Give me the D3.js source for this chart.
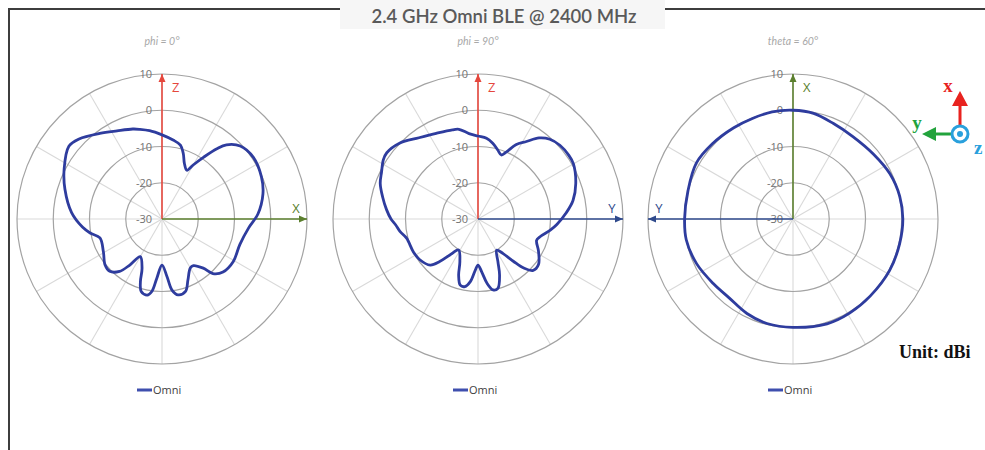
<!DOCTYPE html>
<html><head><meta charset="utf-8">
<script src="https://cdn.jsdelivr.net/npm/d3@7"></script>
<style>body{margin:0;background:#fff} svg{display:block}</style>
</head><body>
<svg id="c" width="985" height="450"></svg>
<script>
// ---------- data ----------
const chartTitle = "2.4 GHz Omni BLE @ 2400 MHz";
const subTitles = ["phi = 0°", "phi = 90°", "theta = 60°"];
const ringTicks = [10, 0, -10, -20, -30];
const seriesName = "Omni";
const unitLabel = "Unit: dBi";
const upAxisLabels = ["Z", "Z", "X"];
const sideAxisLabels = ["X", "Y", "Y"];

// angle in degrees, clockwise from top; gain in dBi
const phi0Angles = [0, 8, 14, 18, 22, 27, 30, 34, 38, 41, 47, 56, 67, 76, 87, 96, 108, 121, 131, 137, 140, 146, 150, 157, 162, 168, 172, 175, 180, 185, 188, 191, 196, 199, 202, 210, 215, 219, 225, 231, 241, 253, 259, 264, 274, 287, 297, 308, 314, 324, 333, 342, 346, 352];
const phi0Gain = [-6.8, -8, -9, -11, -13.5, -14.9, -12.8, -9.4, -5.4, -2.9, -0.5, 0.4, -0.2, -1.3, -3.5, -6, -7.4, -7.1, -7.7, -9.4, -12.3, -14.5, -14.4, -11.7, -9, -8.6, -10.2, -14, -17.3, -13.6, -9.8, -8.6, -9.2, -11.7, -15.3, -18, -14.5, -11.4, -9.6, -9.8, -11.5, -12.1, -9.8, -8, -5, -2, 0.3, 2.6, 1.8, -0.8, -2.7, -3.9, -4.5, -5.4];

const phi90Angles = [0, 6, 11, 16, 20, 23, 27, 32, 37, 42, 48, 55, 60, 70, 79, 86, 94, 99, 106, 110, 118, 127, 133, 137, 140, 144, 149, 155, 159, 164, 168, 172, 176, 180, 183, 187, 191, 195, 199, 203, 212, 218, 222, 226, 235, 243, 255, 261, 266, 270, 276, 283, 290, 296, 302, 306, 314, 324, 334, 344, 348, 354];
const phi90Gain = [-7.1, -7.6, -8.7, -10.2, -11.2, -9.9, -7, -4.8, -2, -0.4, 0.4, 0.6, 0.4, -1.3, -3.3, -5.6, -8.2, -9.9, -12.2, -12.8, -11.1, -9.1, -9.2, -11.5, -14.7, -18.2, -20, -17, -13.4, -10.1, -10, -12.1, -15.4, -17.3, -15.9, -12.6, -11, -11.1, -13.6, -17.2, -19.9, -17.4, -14.2, -11.7, -10.4, -10, -9.6, -8.2, -7.2, -6, -4.6, -3, -1.3, -0.4, 0.8, 1.1, 0.1, -2.3, -3.7, -4.4, -4.7, -6.3];

const theta60Angles = [0, 11, 23, 36, 51, 65, 78, 90, 103, 118, 135, 149, 162, 180, 194, 206, 219, 231, 245, 259, 270, 285, 300, 313, 327, 338, 349];
const theta60Gain = [0, -0.3, -1.4, -1.9, -1.5, -0.5, 0.1, 0.3, 0.2, 0.2, 0.1, 0.3, 0.4, -0.1, -0.3, -1, -2, -1.7, -0.7, 0, -0.1, 0, 0.8, 0.4, 0, -0.1, 0.1];

// ---------- layout ----------
const svg = d3.select("#c");
const centersX = [162, 478, 793];
const cy = 219, R = 145;
const RED = "#e5473d", OLIVE = "#5b7f2e", NAVY = "#2f4a8c", CURVE = "#2e3c9e";

const rScale = d3.scaleLinear().domain([-30, 10]).range([0, R]);
const aScale = d3.scaleLinear().domain([0, 360]).range([0, 2 * Math.PI]);

// frame
svg.append("rect").attr("x", 340).attr("y", 0).attr("width", 325).attr("height", 29).attr("fill", "#f6f6f6");
svg.append("path").attr("d", `M9,450 V9 H340 M665,9 H985`).attr("fill", "none").attr("stroke", "#3d3d3d").attr("stroke-width", 2);
svg.append("text").attr("x", 504).attr("y", 23).attr("text-anchor", "middle")
  .attr("font-family", "Lato, 'Open Sans', sans-serif").attr("font-size", 18.5).attr("font-weight", 600)
  .attr("fill", "#5a5a5a").text(chartTitle);

const panels = [
  {angles: phi0Angles, gain: phi0Gain, upColor: RED, sideColor: OLIVE, dir: 1},
  {angles: phi90Angles, gain: phi90Gain, upColor: RED, sideColor: NAVY, dir: 1},
  {angles: theta60Angles, gain: theta60Gain, upColor: OLIVE, sideColor: NAVY, dir: -1}
];

const line = d3.lineRadial()
  .angle(d => aScale(d[0]))
  .radius(d => rScale(d[1]))
  .curve(d3.curveCatmullRomClosed.alpha(0.5));

function arrow(g, x1, y1, x2, y2, color) {
  g.append("line").attr("x1", x1).attr("y1", y1).attr("x2", x2).attr("y2", y2)
    .attr("stroke", color).attr("stroke-width", 1.6);
  const ang = Math.atan2(y2 - y1, x2 - x1);
  const L = 8, w = 3.5;
  const bx = x2 - L * Math.cos(ang), by = y2 - L * Math.sin(ang);
  const px = -Math.sin(ang) * w, py = Math.cos(ang) * w;
  g.append("path").attr("d", `M${x2},${y2} L${bx + px},${by + py} L${bx - px},${by - py} Z`).attr("fill", color);
}

panels.forEach((p, i) => {
  const cx = centersX[i];
  const g = svg.append("g").attr("transform", `translate(${cx},${cy})`);
  svg.append("text").attr("x", cx).attr("y", 45).attr("text-anchor", "middle")
    .attr("font-family", "Lato, 'Open Sans', sans-serif").attr("font-style", "italic").attr("font-size", 10.5)
    .attr("fill", "#a8a8a8").text(subTitles[i]);

  d3.range(0, 360, 30).forEach(a => {
    const t = aScale(a);
    g.append("line").attr("x1", 0).attr("y1", 0)
      .attr("x2", R * Math.sin(t)).attr("y2", -R * Math.cos(t))
      .attr("stroke", "#d9d9d9").attr("stroke-width", 1.1);
  });
  ringTicks.filter(v => v > -30).forEach(v => {
    g.append("circle").attr("r", rScale(v)).attr("fill", "none").attr("stroke", "#a3a3a3").attr("stroke-width", 1.2);
  });
  ringTicks.forEach(v => {
    g.append("text").attr("x", -10).attr("y", -rScale(v) + 4).attr("text-anchor", "end")
      .attr("font-family", "'Open Sans', Lato, sans-serif").attr("font-size", 11).attr("fill", "#727272").text(v);
  });
  arrow(g, 0, 0, 0, -R, p.upColor);
  arrow(g, 0, 0, p.dir * R, 0, p.sideColor);
  g.append("text").attr("x", 10).attr("y", -R + 18).attr("font-family", "'Open Sans', sans-serif")
    .attr("font-size", 13).attr("fill", p.upColor).text(upAxisLabels[i]);
  g.append("text").attr("x", p.dir * 134).attr("y", -6).attr("text-anchor", "middle").attr("font-family", "'Open Sans', sans-serif")
    .attr("font-size", 13).attr("fill", p.sideColor).text(sideAxisLabels[i]);

  const pts = p.angles.map((a, k) => [a, p.gain[k]]);
  g.append("path").attr("d", line(pts)).attr("fill", "none").attr("stroke", CURVE).attr("stroke-width", 2.8);

  const lx = cx - 25;
  svg.append("line").attr("x1", lx).attr("x2", lx + 15).attr("y1", 390).attr("y2", 390)
    .attr("stroke", "#3f4fae").attr("stroke-width", 3);
  svg.append("text").attr("x", lx + 16).attr("y", 394).attr("font-family", "'Open Sans', sans-serif")
    .attr("font-size", 11).attr("fill", "#404040").text(seriesName);
});

svg.append("text").attr("x", 899).attr("y", 358).attr("font-family", "'Liberation Serif', serif")
  .attr("font-weight", "bold").attr("font-size", 18).attr("fill", "#111").text(unitLabel);

const ic = svg.append("g");
const ICR = "#e8231f", ICG = "#22a33c", ICB = "#29a0dc";
ic.append("line").attr("x1", 960).attr("y1", 125).attr("x2", 960).attr("y2", 104).attr("stroke", ICR).attr("stroke-width", 3);
ic.append("path").attr("d", "M960,91 L952,106 L968,106 Z").attr("fill", ICR);
ic.append("line").attr("x1", 951).attr("y1", 134).attr("x2", 934).attr("y2", 134).attr("stroke", ICG).attr("stroke-width", 3);
ic.append("path").attr("d", "M922,134 L936,127 L936,141 Z").attr("fill", ICG);
ic.append("circle").attr("cx", 960).attr("cy", 134).attr("r", 8).attr("fill", "#fff").attr("stroke", ICB).attr("stroke-width", 3);
ic.append("circle").attr("cx", 960).attr("cy", 134).attr("r", 3).attr("fill", ICB);
ic.append("text").attr("x", 948).attr("y", 92).attr("text-anchor", "middle").attr("font-family", "'Liberation Serif', serif")
  .attr("font-weight", "bold").attr("font-size", 19).attr("fill", ICR).text("x");
ic.append("text").attr("x", 917).attr("y", 129).attr("text-anchor", "middle").attr("font-family", "'Liberation Serif', serif")
  .attr("font-weight", "bold").attr("font-size", 19).attr("fill", ICG).text("y");
ic.append("text").attr("x", 974).attr("y", 154).attr("font-family", "'Liberation Serif', serif")
  .attr("font-weight", "bold").attr("font-size", 19).attr("fill", ICB).text("z");
</script>
</body></html>
